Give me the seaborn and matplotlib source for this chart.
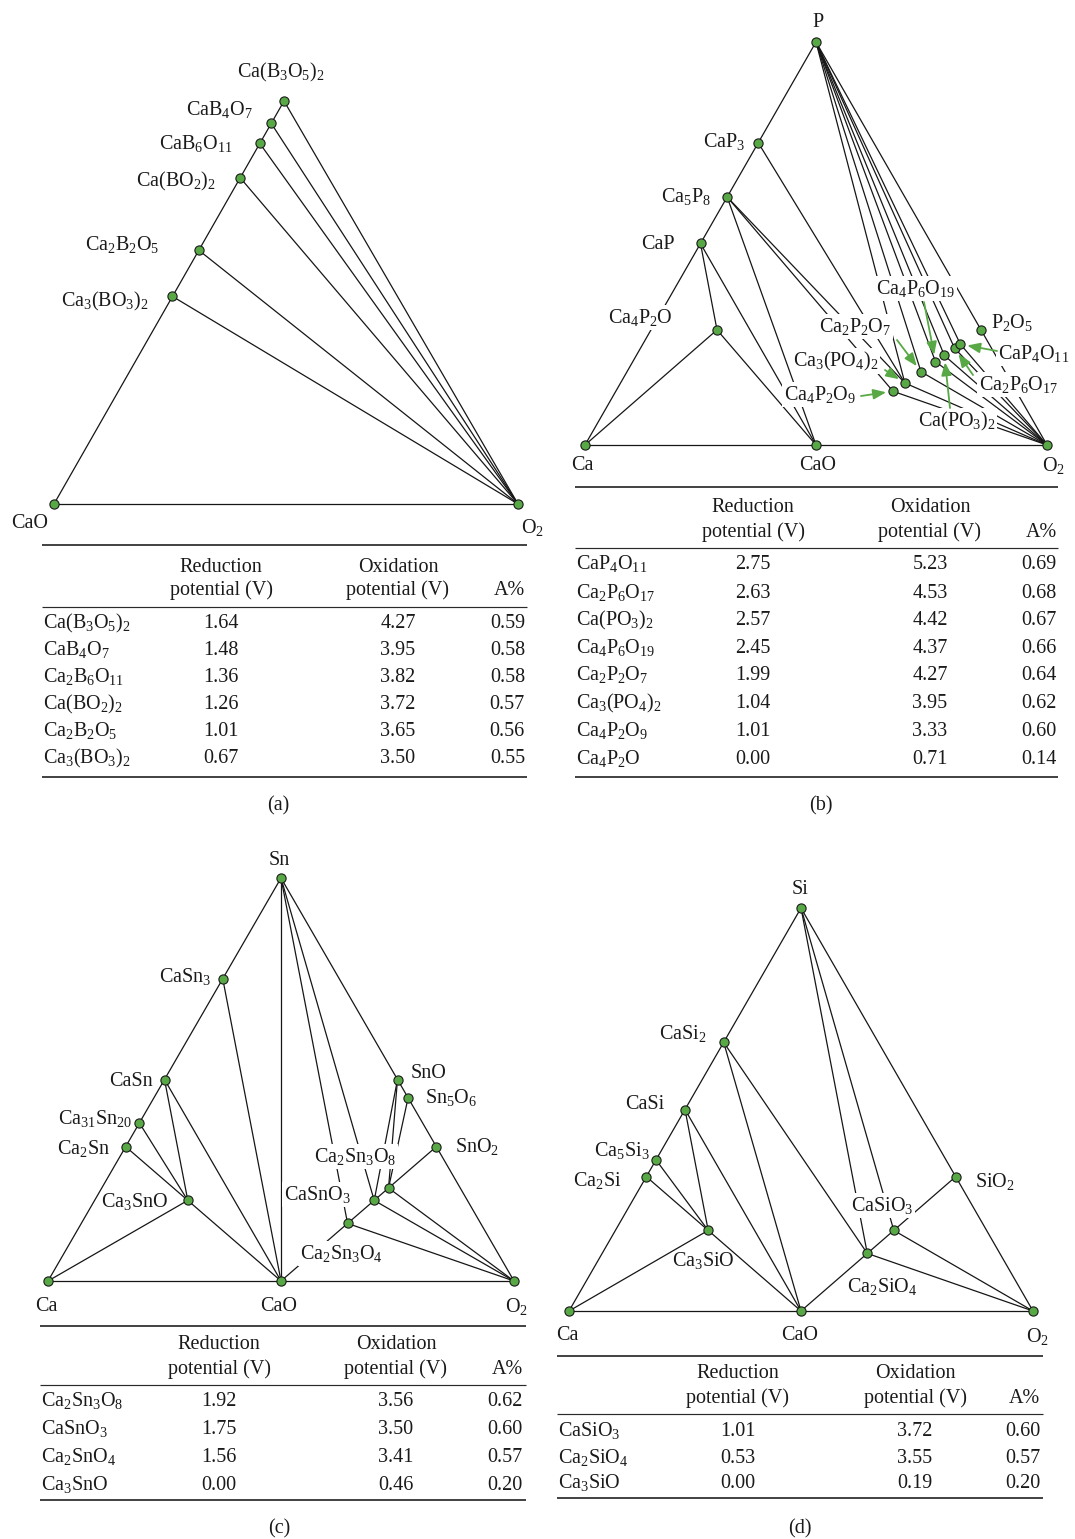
import re
import numpy as np
import pandas as pd
import matplotlib
matplotlib.use("Agg")
import matplotlib.pyplot as plt
from matplotlib.collections import LineCollection
import seaborn as sns

sns.set_theme(style="white")
plt.rcParams["font.family"] = ["Liberation Serif", "DejaVu Serif"]
plt.rcParams["mathtext.fontset"] = "custom"
plt.rcParams["mathtext.rm"] = "Liberation Serif"
plt.rcParams["mathtext.it"] = "Liberation Serif:italic"
plt.rcParams["mathtext.bf"] = "Liberation Serif:bold"

W, H = 1075, 1539
FS = 14.5
GREEN = "#58a946"
INK = "#161616"

# ---------------- (a) Ca-B-O : phases as atom counts (Ca, B, O) ----------------
a_names = ["CaO", "O2", "Ca3(BO3)2", "Ca2B2O5", "Ca(BO2)2", "Ca2B6O11", "CaB4O7", "Ca(B3O5)2"]
a_ca = [1, 0, 3, 2, 1, 2, 1, 1]
a_m = [0, 0, 2, 2, 2, 6, 4, 6]
a_o = [1, 1, 6, 5, 4, 11, 7, 10]
a_edges = [("CaO", "O2"), ("CaO", "Ca3(BO3)2"), ("Ca3(BO3)2", "Ca2B2O5"),
           ("Ca2B2O5", "Ca(BO2)2"), ("Ca(BO2)2", "Ca2B6O11"), ("Ca2B6O11", "CaB4O7"),
           ("CaB4O7", "Ca(B3O5)2"),
           ("O2", "Ca3(BO3)2"), ("O2", "Ca2B2O5"), ("O2", "Ca(BO2)2"),
           ("O2", "Ca2B6O11"), ("O2", "CaB4O7"), ("O2", "Ca(B3O5)2")]
a_labels = [("Ca(B3O5)2", 281, 77, "center", False), ("CaB4O7", 253, 115, "right", False),
            ("CaB6O11", 233, 149, "right", False), ("Ca(BO2)2", 216, 186, "right", False),
            ("Ca2B2O5", 159, 250, "right", False), ("Ca3(BO3)2", 149, 306, "right", False),
            ("CaO", 30, 528, "center", False), ("O2", 532, 533, "center", False)]

# ---------------- (b) Ca-P-O ----------------
b_names = ["Ca", "CaO", "O2", "P", "CaP3", "Ca5P8", "CaP", "Ca4P2O", "Ca4P2O9",
           "Ca3(PO4)2", "Ca2P2O7", "Ca4P6O19", "Ca(PO3)2", "Ca2P6O17", "CaP4O11", "P2O5"]
b_ca = [1, 1, 0, 0, 1, 5, 1, 4, 4, 3, 2, 4, 1, 2, 1, 0]
b_m = [0, 0, 0, 1, 3, 8, 1, 2, 2, 2, 2, 6, 2, 6, 4, 2]
b_o = [0, 1, 1, 0, 0, 0, 0, 1, 9, 8, 7, 19, 6, 17, 11, 5]
b_edges = [("Ca", "CaP"), ("CaP", "Ca5P8"), ("Ca5P8", "CaP3"), ("CaP3", "P"),
           ("P", "P2O5"), ("P2O5", "O2"), ("Ca", "CaO"), ("CaO", "O2"),
           ("Ca", "Ca4P2O"), ("CaP", "Ca4P2O"), ("CaP", "CaO"), ("Ca4P2O", "CaO"),
           ("Ca5P8", "CaO"), ("Ca5P8", "Ca4P2O9"), ("Ca5P8", "Ca3(PO4)2"),
           ("CaP3", "Ca3(PO4)2"),
           ("P", "Ca3(PO4)2"), ("P", "Ca2P2O7"), ("P", "Ca4P6O19"), ("P", "Ca(PO3)2"),
           ("P", "Ca2P6O17"), ("P", "CaP4O11"),
           ("O2", "Ca4P2O9"), ("O2", "Ca3(PO4)2"), ("O2", "Ca2P2O7"), ("O2", "Ca4P6O19"),
           ("O2", "Ca(PO3)2"), ("O2", "Ca2P6O17"), ("O2", "CaP4O11")]
b_labels = [("P", 818, 27, "center", False), ("Ca", 582, 470, "center", False),
            ("CaO", 818, 470, "center", False), ("O2", 1053, 471, "center", False),
            ("CaP3", 745, 147, "right", False), ("Ca5P8", 711, 202, "right", False),
            ("CaP", 675, 249, "right", False), ("Ca4P2O", 673, 323, "right", True),
            ("Ca4P6O19", 916, 294, "center", True), ("P2O5", 991, 328, "left", False),
            ("Ca2P2O7", 855, 332, "center", True), ("Ca3(PO4)2", 836, 366, "center", True),
            ("Ca4P2O9", 820, 400, "center", True), ("CaP4O11", 998, 359, "left", True),
            ("Ca2P6O17", 979, 390, "left", True), ("Ca(PO3)2", 957, 426, "center", True)]
# arrow tails (pixel) pointing at their phase
b_arrows = [("Ca4P2O9", 861, 396), ("Ca3(PO4)2", 885, 370), ("Ca2P2O7", 897, 340),
            ("Ca4P6O19", 924, 302), ("Ca(PO3)2", 950, 408), ("Ca2P6O17", 973, 375),
            ("CaP4O11", 997, 351)]

# ---------------- (c) Ca-Sn-O ----------------
c_names = ["Ca", "CaO", "O2", "Sn", "CaSn3", "CaSn", "Ca31Sn20", "Ca2Sn", "Ca3SnO",
           "SnO", "Sn5O6", "SnO2", "Ca2Sn3O8", "CaSnO3", "Ca2SnO4"]
c_ca = [1, 1, 0, 0, 1, 1, 31, 2, 3, 0, 0, 0, 2, 1, 2]
c_m = [0, 0, 0, 1, 3, 1, 20, 1, 1, 1, 5, 1, 3, 1, 1]
c_o = [0, 1, 1, 0, 0, 0, 0, 0, 1, 1, 6, 2, 8, 3, 4]
c_edges = [("Ca", "Ca2Sn"), ("Ca2Sn", "Ca31Sn20"), ("Ca31Sn20", "CaSn"), ("CaSn", "CaSn3"),
           ("CaSn3", "Sn"), ("Sn", "SnO"), ("SnO", "Sn5O6"), ("Sn5O6", "SnO2"), ("SnO2", "O2"),
           ("Ca", "CaO"), ("CaO", "O2"),
           ("Ca", "Ca3SnO"), ("Ca2Sn", "Ca3SnO"), ("Ca31Sn20", "Ca3SnO"), ("CaSn", "Ca3SnO"),
           ("CaSn", "CaO"), ("Ca3SnO", "CaO"), ("CaSn3", "CaO"), ("Sn", "CaO"),
           ("Sn", "Ca2SnO4"), ("Sn", "CaSnO3"), ("SnO", "CaSnO3"), ("SnO", "Ca2Sn3O8"),
           ("Sn5O6", "Ca2Sn3O8"), ("CaO", "Ca2SnO4"), ("Ca2SnO4", "CaSnO3"),
           ("CaSnO3", "Ca2Sn3O8"), ("Ca2Sn3O8", "SnO2"),
           ("Ca2SnO4", "O2"), ("CaSnO3", "O2"), ("Ca2Sn3O8", "O2")]
c_labels = [("Sn", 279, 865, "center", False), ("Ca", 46, 1311, "center", False),
            ("CaO", 279, 1311, "center", False), ("O2", 516, 1312, "center", False),
            ("CaSn3", 211, 982, "right", False), ("CaSn", 153, 1086, "right", False),
            ("Ca31Sn20", 132, 1124, "right", False), ("Ca2Sn", 110, 1154, "right", False),
            ("Ca3SnO", 168, 1207, "right", False), ("SnO", 411, 1078, "left", False),
            ("Sn5O6", 425, 1103, "left", False), ("SnO2", 455, 1152, "left", False),
            ("Ca2Sn3O8", 355, 1162, "center", True), ("CaSnO3", 317, 1200, "center", True),
            ("Ca2Sn3O4", 300, 1259, "left", True)]

# ---------------- (d) Ca-Si-O ----------------
d_names = ["Ca", "CaO", "O2", "Si", "CaSi2", "CaSi", "Ca5Si3", "Ca2Si", "Ca3SiO",
           "SiO2", "CaSiO3", "Ca2SiO4"]
d_ca = [1, 1, 0, 0, 1, 1, 5, 2, 3, 0, 1, 2]
d_m = [0, 0, 0, 1, 2, 1, 3, 1, 1, 1, 1, 1]
d_o = [0, 1, 1, 0, 0, 0, 0, 0, 1, 2, 3, 4]
d_edges = [("Ca", "Ca2Si"), ("Ca2Si", "Ca5Si3"), ("Ca5Si3", "CaSi"), ("CaSi", "CaSi2"),
           ("CaSi2", "Si"), ("Si", "SiO2"), ("SiO2", "O2"), ("Ca", "CaO"), ("CaO", "O2"),
           ("Ca", "Ca3SiO"), ("Ca2Si", "Ca3SiO"), ("Ca5Si3", "Ca3SiO"), ("CaSi", "Ca3SiO"),
           ("CaSi", "CaO"), ("Ca3SiO", "CaO"), ("CaSi2", "CaO"), ("CaSi2", "Ca2SiO4"),
           ("Si", "Ca2SiO4"), ("Si", "CaSiO3"), ("CaO", "Ca2SiO4"), ("Ca2SiO4", "CaSiO3"),
           ("CaSiO3", "SiO2"), ("Ca2SiO4", "O2"), ("CaSiO3", "O2")]
d_labels = [("Si", 800, 894, "center", False), ("Ca", 567, 1340, "center", False),
            ("CaO", 800, 1340, "center", False), ("O2", 1037, 1342, "center", False),
            ("CaSi2", 707, 1039, "right", False), ("CaSi", 664, 1109, "right", False),
            ("Ca5Si3", 650, 1156, "right", False), ("Ca2Si", 622, 1186, "right", False),
            ("Ca3SiO", 703, 1266, "center", False), ("SiO2", 975, 1187, "left", False),
            ("CaSiO3", 882, 1211, "center", True), ("Ca2SiO4", 882, 1292, "center", False)]

# ---------------- tables ----------------
ta_names = ["Ca(B3O5)2", "CaB4O7", "Ca2B6O11", "Ca(BO2)2", "Ca2B2O5", "Ca3(BO3)2"]
ta_red = [1.64, 1.48, 1.36, 1.26, 1.01, 0.67]
ta_ox = [4.27, 3.95, 3.82, 3.72, 3.65, 3.50]
ta_pct = [0.59, 0.58, 0.58, 0.57, 0.56, 0.55]

tb_names = ["CaP4O11", "Ca2P6O17", "Ca(PO3)2", "Ca4P6O19", "Ca2P2O7", "Ca3(PO4)2",
            "Ca4P2O9", "Ca4P2O"]
tb_red = [2.75, 2.63, 2.57, 2.45, 1.99, 1.04, 1.01, 0.00]
tb_ox = [5.23, 4.53, 4.42, 4.37, 4.27, 3.95, 3.33, 0.71]
tb_pct = [0.69, 0.68, 0.67, 0.66, 0.64, 0.62, 0.60, 0.14]

tc_names = ["Ca2Sn3O8", "CaSnO3", "Ca2SnO4", "Ca3SnO"]
tc_red = [1.92, 1.75, 1.56, 0.00]
tc_ox = [3.56, 3.50, 3.41, 0.46]
tc_pct = [0.62, 0.60, 0.57, 0.20]

td_names = ["CaSiO3", "Ca2SiO4", "Ca3SiO"]
td_red = [1.01, 0.53, 0.00]
td_ox = [3.72, 3.55, 0.19]
td_pct = [0.60, 0.57, 0.20]


def chem(s):
    """Chemical formula with subscripted counts, as mathtext."""
    return re.sub(r"(\d+)", r"$_{\1}$", s)


def tern(ca, m, o, lean):
    ca, m, o = (np.asarray(v, float) for v in (ca, m, o))
    tot = ca + m + o
    return o / tot + lean * m / tot, m / tot


fig = plt.figure(figsize=(W / 100, H / 100), dpi=100)
fig.patch.set_facecolor("white")

ov = fig.add_axes([0, 0, 1, 1])
ov.set_xlim(0, W)
ov.set_ylim(H, 0)
ov.axis("off")


def place(xref, yref, xlim, ylim):
    X0, X1, p0, p1 = xref
    Y0, Y1, q0, q1 = yref
    fx = lambda X: p0 + (X - X0) * (p1 - p0) / (X1 - X0)
    fy = lambda Y: q0 + (Y - Y0) * (q1 - q0) / (Y1 - Y0)
    left, right = fx(xlim[0]), fx(xlim[1])
    bot, top = fy(ylim[0]), fy(ylim[1])
    ax = fig.add_axes([left / W, 1 - bot / H, (right - left) / W, (bot - top) / H])
    ax.patch.set_alpha(0)
    return ax


def draw_panel(names, ca, m, o, edges, labels, lean, xref, yref, xlim, ylim):
    ax = place(xref, yref, xlim, ylim)
    X, Y = tern(ca, m, o, lean)
    df = pd.DataFrame({"phase": names, "X": X, "Y": Y}).set_index("phase", drop=False)
    segs = [[(df.loc[p, "X"], df.loc[p, "Y"]), (df.loc[q, "X"], df.loc[q, "Y"])]
            for p, q in edges]
    ax.add_collection(LineCollection(segs, colors=INK, linewidths=0.9, zorder=1,
                                     clip_on=False, capstyle="round"))
    sns.scatterplot(data=df, x="X", y="Y", ax=ax, color=GREEN, edgecolor="#1a1a1a",
                    linewidth=0.8, s=44, zorder=5, clip_on=False, legend=False)
    for text, x, y, ha, boxed in labels:
        kw = dict(transform=ov.transData, ha=ha, va="baseline", fontsize=FS,
                  color="#1a1a1a", zorder=3)
        if boxed:
            kw["bbox"] = dict(facecolor="white", edgecolor="none", pad=1.2)
        ax.text(x, y, chem(text), **kw)
    ax.set_xlim(*xlim)
    ax.set_ylim(*ylim)
    ax.axis("off")
    return ax, df


draw_panel(a_names, a_ca, a_m, a_o, a_edges, a_labels, 0.4523,
           (0.5, 1.0, 54, 518), (0.0, 1.0, 504, 504 - 1141.8), (0.5, 1.0), (0.0, 0.36))
axb, dfb = draw_panel(b_names, b_ca, b_m, b_o, b_edges, b_labels, 0.5,
                      (0.0, 1.0, 585, 1047), (0.0, 1.0, 445, 42), (0.0, 1.0), (0.0, 1.0))
draw_panel(c_names, c_ca, c_m, c_o, c_edges, c_labels, 0.5,
           (0.0, 1.0, 48, 514), (0.0, 1.0, 1281, 878), (0.0, 1.0), (0.0, 1.0))
draw_panel(d_names, d_ca, d_m, d_o, d_edges, d_labels, 0.5,
           (0.0, 1.0, 569, 1033), (0.0, 1.0, 1311, 908), (0.0, 1.0), (0.0, 1.0))

for phase, tx, ty in b_arrows:
    axb.annotate("", xy=(dfb.loc[phase, "X"], dfb.loc[phase, "Y"]), xycoords="data",
                 xytext=(tx, ty), textcoords=ov.transData,
                 arrowprops=dict(arrowstyle="-|>,head_length=0.55,head_width=0.22",
                                 color=GREEN, lw=1.3, shrinkA=0, shrinkB=5,
                                 mutation_scale=14),
                 zorder=4)


def draw_table(x0, x1, c_red, c_ox, c_pct, y_top, y_h1, y_h2, y_mid, rows, y_bot,
               names, red, ox, pct):
    ov.plot([x0, x1], [y_top, y_top], color="#2a2a2a", lw=1.25, solid_capstyle="butt")
    ov.plot([x0, x1], [y_mid, y_mid], color="#2a2a2a", lw=0.85, solid_capstyle="butt")
    ov.plot([x0, x1], [y_bot, y_bot], color="#2a2a2a", lw=1.25, solid_capstyle="butt")
    tk = dict(fontsize=FS, va="baseline", color="#1a1a1a")
    ov.text(c_red, y_h1, "Reduction", ha="center", **tk)
    ov.text(c_red, y_h2, "potential (V)", ha="center", **tk)
    ov.text(c_ox, y_h1, "Oxidation", ha="center", **tk)
    ov.text(c_ox, y_h2, "potential (V)", ha="center", **tk)
    ov.text(c_pct, y_h2, "A%", ha="right", **tk)
    for y, n, r, o_, p in zip(rows, names, red, ox, pct):
        ov.text(x0 + 1, y, chem(n), ha="left", **tk)
        ov.text(c_red, y, f"{r:.2f}", ha="center", **tk)
        ov.text(c_ox, y, f"{o_:.2f}", ha="center", **tk)
        ov.text(c_pct, y, f"{p:.2f}", ha="right", **tk)


draw_table(42, 527, 221, 398, 525, 545, 572, 595, 607,
           [628, 655, 682, 709, 736, 763], 777, ta_names, ta_red, ta_ox, ta_pct)
draw_table(575, 1058, 753, 930, 1057, 487, 512, 537, 548,
           [569, 598, 625, 653, 680, 708, 736, 764], 777, tb_names, tb_red, tb_ox, tb_pct)
draw_table(40, 526, 219, 396, 523, 1326, 1349, 1374, 1385,
           [1406, 1434, 1462, 1490], 1500, tc_names, tc_red, tc_ox, tc_pct)
draw_table(557, 1043, 738, 915, 1040, 1356, 1378, 1403, 1414,
           [1436, 1463, 1488], 1498, td_names, td_red, td_ox, td_pct)

for letter, x, y in [("(a)", 278, 810), ("(b)", 821, 810), ("(c)", 279, 1533), ("(d)", 800, 1533)]:
    ov.text(x, y, letter, ha="center", va="baseline", fontsize=FS, color="#1a1a1a")

fig.savefig("out.png", dpi=100, facecolor="white")
